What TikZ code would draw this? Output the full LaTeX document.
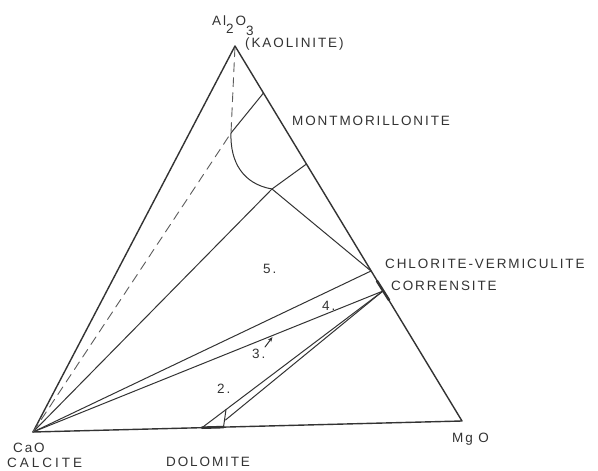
\documentclass[tikz,border=0pt]{standalone}
\usepackage{fontspec}
\setmainfont{Liberation Sans}
\newfontfamily\labfont[LetterSpace=14]{Liberation Sans}
\newfontfamily\widefont[LetterSpace=22]{Liberation Sans}
\usetikzlibrary{arrows.meta}
\definecolor{ink}{HTML}{333333}
\begin{document}
\begin{tikzpicture}[x=1pt,y=-1pt,line cap=round,line join=round,
  edge/.style={draw=ink,line width=1.4pt},
  tie/.style={draw=ink,line width=1pt},
  heavy/.style={draw=ink,line width=2.6pt},
  dashline/.style={draw=ink!80,line width=0.9pt,dash pattern=on 9pt off 6pt},
  lab/.style={anchor=base west,inner sep=0pt,text=ink,font=\labfont\fontsize{13.5}{16}\selectfont},
  widelab/.style={anchor=base west,inner sep=0pt,text=ink,font=\widefont\fontsize{13.5}{16}\selectfont}]
\useasboundingbox[fill=white] (0,0) rectangle (598,471);
% vertices and points
\coordinate (A) at (235,46);
\coordinate (C) at (33,432);
\coordinate (M) at (462,421);
\coordinate (K) at (231,133);
\coordinate (J) at (272,189);
\coordinate (P1) at (263.5,93);
\coordinate (P2) at (306.5,164);
\coordinate (Q) at (371,271);
\coordinate (R) at (383,291);
\coordinate (R1) at (377,281);
\coordinate (R2) at (389,300);
\coordinate (D1) at (202,427.7);
\coordinate (D2) at (223.5,427.1);
\coordinate (T) at (226,409.6);
\coordinate (E) at (225.5,420);
\coordinate (a3s) at (265,347);
\coordinate (a3e) at (272.5,337);
% triangle
\draw[edge] (C) -- (A) -- (M) -- cycle;
% montmorillonite field
\draw[tie] (K) -- (P1);
\draw[tie] (K) .. controls (230,162) and (243,184) .. (J);
\draw[tie] (J) -- (P2);
\draw[tie] (J) -- (Q);
% tie lines from calcite
\draw[tie] (C) -- (J);
\draw[tie] (C) -- (Q);
\draw[tie] (C) -- (R);
\draw[dashline] (C) -- (K) -- (A);
% dolomite lines
\draw[tie] (R) -- (D1);
\draw[tie] (R) -- (E);
\draw[tie] (T) -- (D2);
\draw[heavy] (D1) -- (D2);
\draw[heavy] (R1) -- (R2);
\draw[tie,-{Stealth[length=5pt,width=4pt]}] (a3s) -- (a3e);
% labels
\node[lab] (al) at (212,25) {Al\raisebox{-8pt}{2}\hspace{2pt}O\raisebox{-10pt}{3}};
\node[lab] (kao) at (245,48) {(KAOLINITE)};
\node[lab] (mont) at (292,125) {MONTMORILLONITE};
\node[lab] (chl) at (385,268) {CHLORITE-VERMICULITE};
\node[lab] (cor) at (391,290) {CORRENSITE};
\node[lab] (f5) at (263,273) {5.};
\node[lab] (f4) at (322,310) {4.};
\node[lab] (f3) at (252,358) {3.};
\node[lab] (f2) at (217,393) {2.};
\node[lab] (cao) at (13,452) {CaO};
\node[widelab] (cal) at (7,467.5) {CALCITE};
\node[lab] (mgo) at (452,442) {Mg O};
\node[lab] (dol) at (166,466) {DOLOMITE};
\end{tikzpicture}
\end{document}
